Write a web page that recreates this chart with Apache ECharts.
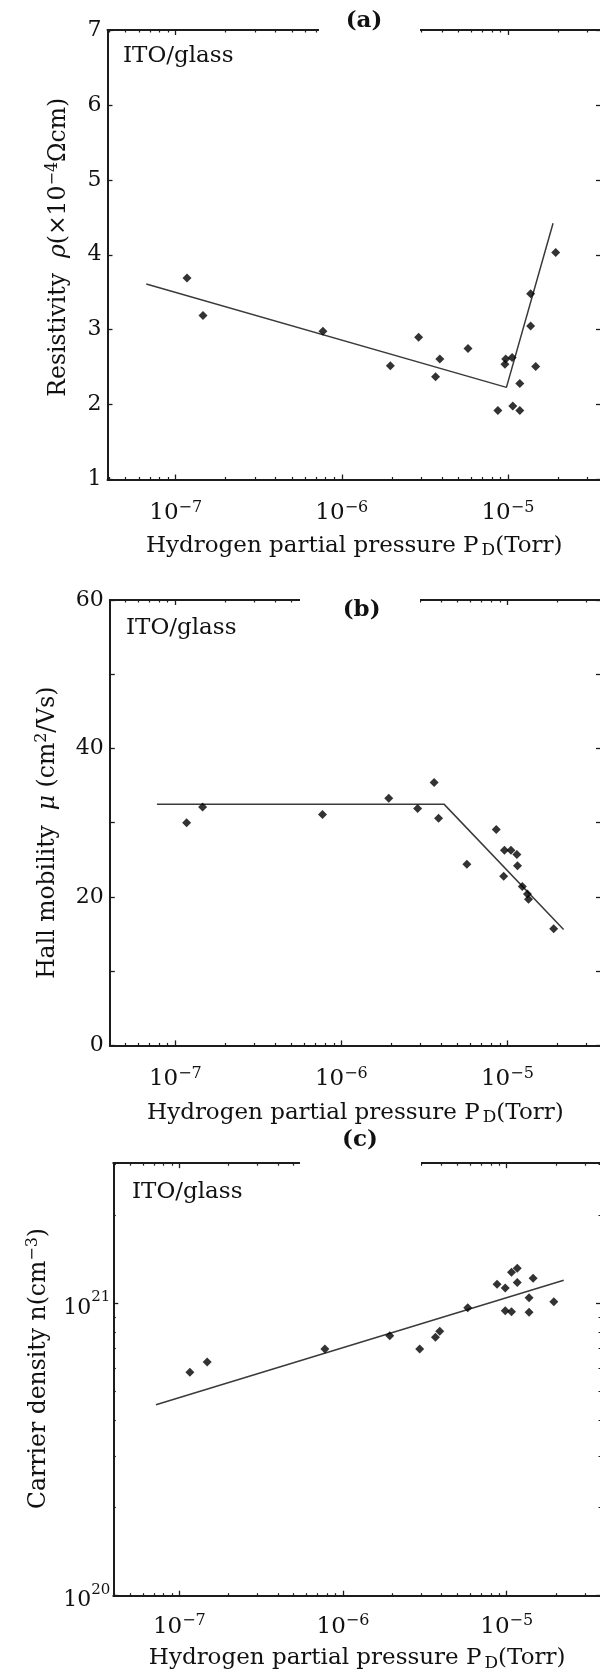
<!DOCTYPE html>
<html><head><meta charset="utf-8">
<script src="https://cdn.jsdelivr.net/npm/echarts@6/dist/echarts.min.js"></script>
<style>html,body{margin:0;padding:0;background:#fff}#c{width:600px;height:1671px}</style>
</head><body><div id="c"></div>
<script>
// ---------------- data ----------------
// (a) resistivity vs hydrogen partial pressure
const pressureA = [1.17e-7, 1.46e-7, 7.7e-7, 1.96e-6, 2.9e-6, 3.89e-6, 3.67e-6, 5.75e-6, 8.7e-6, 9.7e-6, 9.6e-6, 1.06e-5, 1.07e-5, 1.18e-5, 1.18e-5, 1.37e-5, 1.37e-5, 1.47e-5, 1.94e-5];
const resistivityA = [3.69, 3.19, 2.98, 2.52, 2.90, 2.61, 2.37, 2.75, 1.92, 2.61, 2.54, 2.63, 1.98, 2.28, 1.92, 3.48, 3.05, 2.51, 4.03];
const fitPressureA = [6.65e-8, 9.8e-6, 1.87e-5];
const fitResistivityA = [3.61, 2.23, 4.42];
// (b) Hall mobility
const pressureB = [1.17e-7, 1.46e-7, 7.7e-7, 1.93e-6, 2.88e-6, 3.62e-6, 3.85e-6, 5.7e-6, 8.57e-6, 9.5e-6, 9.6e-6, 1.05e-5, 1.14e-5, 1.15e-5, 1.23e-5, 1.32e-5, 1.34e-5, 1.90e-5];
const mobilityB = [30.0, 32.1, 31.1, 33.3, 31.9, 35.4, 30.6, 24.4, 29.1, 22.8, 26.3, 26.3, 25.7, 24.2, 21.4, 20.4, 19.7, 15.7];
const fitPressureB = [7.75e-8, 4.15e-6, 2.18e-5];
const fitMobilityB = [32.5, 32.5, 15.6];
// (c) carrier density
const pressureC = [1.16e-7, 1.48e-7, 7.75e-7, 1.93e-6, 2.94e-6, 3.67e-6, 3.9e-6, 5.78e-6, 8.73e-6, 9.8e-6, 9.8e-6, 1.07e-5, 1.07e-5, 1.16e-5, 1.16e-5, 1.37e-5, 1.37e-5, 1.45e-5, 1.94e-5];
const densityC = [5.82e20, 6.3e20, 6.98e20, 7.76e20, 6.98e20, 7.67e20, 8.03e20, 9.66e20, 1.164e21, 1.13e21, 9.45e20, 9.37e20, 1.28e21, 1.32e21, 1.18e21, 1.047e21, 9.34e20, 1.22e21, 1.014e21];
const fitPressureC = [7.2e-8, 2.23e-5];
const fitDensityC = [4.5e20, 1.2e21];
// ticks
const xMajorExp = [-7, -6, -5];
const minorMult = [2, 3, 4, 5, 6, 7, 8, 9];
const yTicksA = [1, 2, 3, 4, 5, 6, 7];
const yTicksB = [0, 10, 20, 30, 40, 50, 60];
const yLabelsB = [0, 20, 40, 60];
const yMajorExpC = [20, 21];
const panelTitles = ['(a)', '(b)', '(c)'];
const sampleLabel = 'ITO/glass';

// ---------------- helpers ----------------
const lg = Math.log10;
const FONT = 'DejaVu Serif';
const AX = '#1c1c1c';
const TXT = '#111';
function minorList(decades) { const o = []; decades.forEach(d => minorMult.forEach(m => o.push(d + lg(m)))); return o; }
const xMinor = minorList([-8, -7, -6, -5]);
const yMinorC = minorList([20, 21]);
const inRange = (arr, r) => arr.filter(v => v >= r[0] - 1e-9 && v <= r[1] + 1e-9);

const xName = '{t|Hydrogen partial pressure P}{d|D}{t|(Torr)}';
const xNameRich = {
  t: { fontFamily: FONT, fontSize: 23, color: TXT },
  d: { fontFamily: FONT, fontSize: 17, color: TXT, padding: [10, 0, 0, 3] }
};
const supRich = {
  t: { fontFamily: FONT, fontSize: 23.5, color: TXT },
  i: { fontFamily: FONT, fontSize: 23.5, color: TXT, fontStyle: 'italic' },
  s: { fontFamily: FONT, fontSize: 16, color: TXT, padding: [0, 0, 12, 0] }
};

const panels = [
  { grid: { left: 107.5, top: 30, width: 493.5, height: 449.5 },
    xRange: [-7.4106, -4.4395], yRange: [1, 7],
    yTicks: yTicksA, yLabels: yTicksA, yMinor: [],
    yFormatter: v => String(v), yLabelRich: null, yLabelMargin: 6,
    xLabelMargin: 20, xNameGap: 53,
    yName: '{t|Resistivity  }{i|ρ}{t|(×10}{s|−4}{t|Ωcm)}', yNameGap: 35, yNamePad: [0, 0, 0, 15],
    px: pressureA, py: resistivityA, fx: fitPressureA, fy: fitResistivityA, ylog: false,
    title: { x: 364, y: 21 }, gap: { x: 319, y: 24, w: 101 }, sample: { x: 123, y: 45 } },
  { grid: { left: 109.8, top: 600, width: 491.2, height: 445.4 },
    xRange: [-7.3945, -4.4363], yRange: [0, 60],
    yTicks: yTicksB, yLabels: yLabelsB, yMinor: [],
    yFormatter: v => String(v), yLabelRich: null, yLabelMargin: 6,
    xLabelMargin: 20, xNameGap: 54,
    yName: '{t|Hall mobility  }{i|μ}{t| (cm}{s|2}{t|/Vs)}', yNameGap: 48, yNamePad: [0, 20, 0, 0],
    px: pressureB, py: mobilityB, fx: fitPressureB, fy: fitMobilityB, ylog: false,
    title: { x: 361.6, y: 610 }, gap: { x: 300, y: 594, w: 120 }, sample: { x: 126, y: 617 } },
  { grid: { left: 113.3, top: 1163.2, width: 487.7, height: 432.5 },
    xRange: [-7.4032, -4.424], yRange: [20, 21.48],
    yTicks: yMajorExpC, yLabels: yMajorExpC, yMinor: yMinorC,
    yFormatter: v => '{a|10}{b|' + Math.round(v) + '}',
    yLabelRich: {
      a: { fontFamily: FONT, fontSize: 22, color: TXT, padding: [10, 0, 0, 0] },
      b: { fontFamily: FONT, fontSize: 15, color: TXT, padding: [0, 0, 12, 0] }
    }, yLabelMargin: 3,
    xLabelMargin: 17, xNameGap: 49,
    yName: '{t|Carrier density n(cm}{s|−3}{t|)}', yNameGap: 60, yNamePad: [0, 0, 0, 22],
    px: pressureC, py: densityC, fx: fitPressureC, fy: fitDensityC, ylog: true,
    title: { x: 360, y: 1140 }, gap: { x: 300, y: 1157, w: 121 }, sample: { x: 132, y: 1181 } }
];

const lineStyle = { show: true, onZero: false, lineStyle: { color: AX, width: 2 } };
const majorTick = (vals) => ({ show: vals.length > 0, inside: true, length: 5, customValues: vals, lineStyle: { color: AX, width: 1.3 } });
const minorTick = (vals) => ({ show: vals.length > 0, inside: true, length: 2.5, customValues: vals, lineStyle: { color: AX, width: 1.2 } });

const grids = [], xAxes = [], yAxes = [], series = [], graphics = [];
panels.forEach((p, g) => {
  grids.push(Object.assign({ containLabel: false, outerBoundsMode: 'none' }, p.grid));
  const xMaj = inRange(xMajorExp, p.xRange), xMin = inRange(xMinor, p.xRange);
  const xc = { type: 'value', gridIndex: g, min: p.xRange[0], max: p.xRange[1], splitLine: { show: false } };
  xAxes.push(Object.assign({}, xc, {
    position: 'bottom', axisLine: lineStyle, axisTick: majorTick(xMaj),
    axisLabel: { show: true, customValues: xMaj, margin: p.xLabelMargin,
      formatter: v => '{a|10}{b|−' + Math.abs(Math.round(v)) + '}',
      rich: { a: { fontFamily: FONT, fontSize: 23, color: TXT }, b: { fontFamily: FONT, fontSize: 16, color: TXT, padding: [0, 0, 12, 0] } } },
    name: xName, nameLocation: 'middle', nameGap: p.xNameGap, nameTextStyle: { rich: xNameRich }
  }));
  xAxes.push(Object.assign({}, xc, { position: 'bottom', axisLine: { show: false, onZero: false }, axisTick: minorTick(xMin), axisLabel: { show: false } }));
  xAxes.push(Object.assign({}, xc, { position: 'top', axisLine: lineStyle, axisTick: majorTick(xMaj), axisLabel: { show: false } }));
  xAxes.push(Object.assign({}, xc, { position: 'top', axisLine: { show: false, onZero: false }, axisTick: minorTick(xMin), axisLabel: { show: false } }));

  const yc = { type: 'value', gridIndex: g, min: p.yRange[0], max: p.yRange[1], splitLine: { show: false } };
  const yMaj = inRange(p.yTicks, p.yRange), yMin = inRange(p.yMinor, p.yRange);
  const lab = { show: true, customValues: inRange(p.yLabels, p.yRange), margin: p.yLabelMargin, formatter: p.yFormatter,
    fontFamily: FONT, fontSize: 22, color: TXT };
  if (p.yLabelRich) lab.rich = p.yLabelRich;
  yAxes.push(Object.assign({}, yc, {
    position: 'left', axisLine: lineStyle, axisTick: majorTick(yMaj), axisLabel: lab,
    name: p.yName, nameLocation: 'middle', nameGap: p.yNameGap,
    nameTextStyle: { rich: supRich, padding: p.yNamePad }
  }));
  yAxes.push(Object.assign({}, yc, { position: 'left', axisLine: { show: false, onZero: false }, axisTick: minorTick(yMin), axisLabel: { show: false } }));
  yAxes.push(Object.assign({}, yc, { position: 'right', axisLine: lineStyle, axisTick: majorTick(yMaj), axisLabel: { show: false } }));
  yAxes.push(Object.assign({}, yc, { position: 'right', axisLine: { show: false, onZero: false }, axisTick: minorTick(yMin), axisLabel: { show: false } }));

  const ty = v => p.ylog ? lg(v) : v;
  series.push({
    type: 'line', xAxisIndex: 4 * g, yAxisIndex: 4 * g, showSymbol: false, symbol: 'none',
    lineStyle: { color: '#3a3a3a', width: 1.5 }, z: 3,
    data: p.fx.map((x, i) => [lg(x), ty(p.fy[i])])
  });
  series.push({
    type: 'scatter', xAxisIndex: 4 * g, yAxisIndex: 4 * g, symbol: 'diamond', symbolSize: 9,
    itemStyle: { color: '#000' }, z: 4,
    data: p.px.map((x, i) => [lg(x), ty(p.py[i])])
  });

  graphics.push({ type: 'rect', z: 100, shape: { x: p.gap.x, y: p.gap.y, width: p.gap.w, height: 12 }, style: { fill: '#fff' } });
  graphics.push({ type: 'text', z: 101, style: { text: panelTitles[g], x: p.title.x, y: p.title.y, align: 'center', verticalAlign: 'middle',
    font: 'bold 23px "DejaVu Serif"', fill: TXT } });
  graphics.push({ type: 'text', z: 101, style: { text: sampleLabel, x: p.sample.x, y: p.sample.y, align: 'left', verticalAlign: 'top',
    font: '23px "DejaVu Serif"', fill: TXT } });
});

const chart = echarts.init(document.getElementById('c'), null, { renderer: 'canvas' });
chart.setOption({
  animation: false,
  backgroundColor: '#fff',
  textStyle: { fontFamily: FONT, color: TXT },
  grid: grids, xAxis: xAxes, yAxis: yAxes, series: series,
  graphic: graphics
});
</script></body></html>
